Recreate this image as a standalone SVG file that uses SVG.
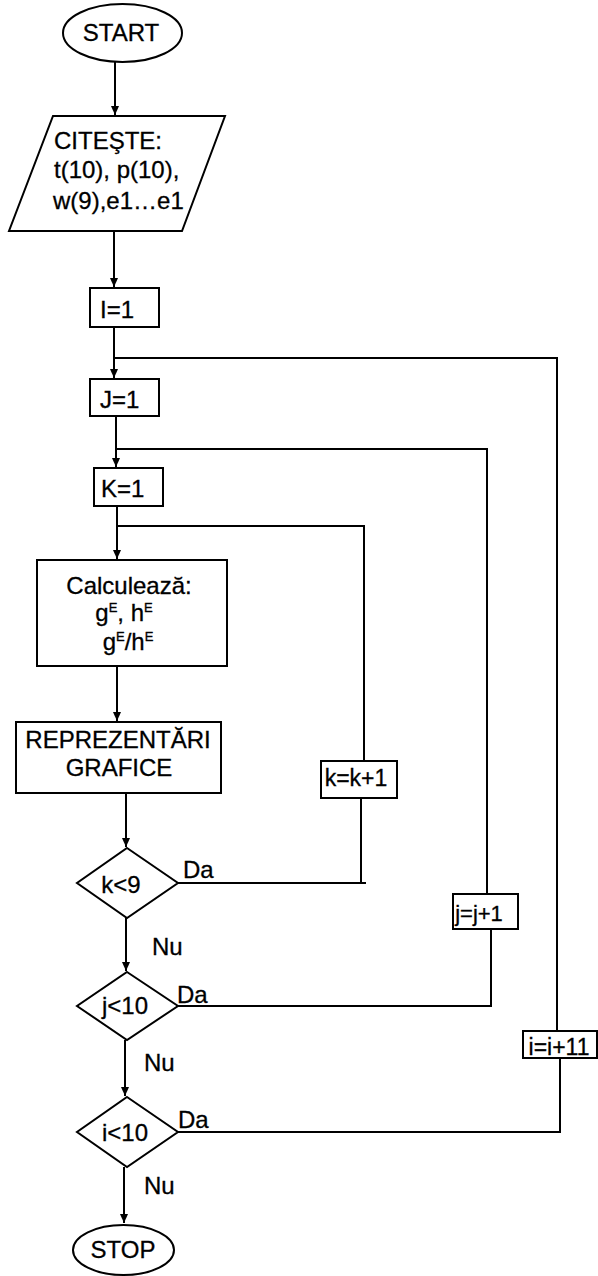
<svg xmlns="http://www.w3.org/2000/svg" width="598" height="1276" viewBox="0 0 598 1276">
<defs>
<marker id="arr" markerWidth="10" markerHeight="10" refX="9" refY="5" orient="auto" markerUnits="userSpaceOnUse">
<path d="M0,1 L9,5 L0,9 Z" fill="#000"/>
</marker>
<style>
.s{fill:#fff;stroke:#000;stroke-width:2}
.t{font-family:"Liberation Sans",Arial,sans-serif;font-size:24px;fill:#000;stroke:#000;stroke-width:0.3}
.c{text-anchor:middle}
.l{fill:none;stroke:#000;stroke-width:2}
.sup{font-size:13px}
</style>
</defs>
<rect width="598" height="1276" fill="#fff"/>

<g id="connectors">
<line class="l" x1="115" y1="62" x2="115" y2="115" marker-end="url(#arr)"/>
<line class="l" x1="114" y1="231" x2="114" y2="287" marker-end="url(#arr)"/>
<line class="l" x1="114" y1="327" x2="114" y2="378" marker-end="url(#arr)"/>
<line class="l" x1="116" y1="416" x2="116" y2="467" marker-end="url(#arr)"/>
<line class="l" x1="117" y1="506" x2="117" y2="559" marker-end="url(#arr)"/>
<line class="l" x1="117" y1="666" x2="117" y2="721" marker-end="url(#arr)"/>
<line class="l" x1="126" y1="793" x2="126" y2="847" marker-end="url(#arr)"/>
<line class="l" x1="126" y1="918" x2="126" y2="971" marker-end="url(#arr)"/>
<line class="l" x1="125" y1="1040" x2="125" y2="1096" marker-end="url(#arr)"/>
<line class="l" x1="124" y1="1167" x2="124" y2="1223" marker-end="url(#arr)"/>
<!-- i loop -->
<polyline class="l" points="114,358 557,358 557,1031"/>
<polyline class="l" points="178,1132 560,1132 560,1058"/>
<!-- j loop -->
<polyline class="l" points="116,449 487,449 487,894"/>
<polyline class="l" points="178,1006 491,1006 491,929"/>
<!-- k loop -->
<polyline class="l" points="117,526 364,526 364,761"/>
<polyline class="l" points="178,883 366,883"/>
<line class="l" x1="361" y1="798" x2="361" y2="883"/>
<text class="t" x="183" y="878">Da</text>
<text class="t" x="152" y="955">Nu</text>
<text class="t" x="177" y="1003">Da</text>
<text class="t" x="144" y="1071">Nu</text>
<text class="t" x="178" y="1128">Da</text>
<text class="t" x="144" y="1194">Nu</text>
</g>

<g id="start">
<ellipse class="s" cx="122.5" cy="33" rx="59.5" ry="29"/>
<text class="t c" x="121" y="41">START</text>
</g>

<g id="read">
<polygon class="s" points="53,116 225,116 182,231 9,231"/>
<text class="t" x="54" y="149">CITEŞTE:</text>
<text class="t" x="54" y="178">t(10), p(10),</text>
<text class="t" x="53" y="209">w(9),e1…e1</text>
</g>

<g id="i1">
<rect class="s" x="90" y="288" width="69" height="39"/>
<text class="t" x="100" y="318">I=1</text>
</g>

<g id="j1">
<rect class="s" x="90" y="379" width="69" height="37"/>
<text class="t" x="100" y="408">J=1</text>
</g>

<g id="k1">
<rect class="s" x="94" y="468" width="69" height="38"/>
<text class="t" x="101" y="497">K=1</text>
</g>

<g id="calc">
<rect class="s" x="37" y="560" width="190" height="106"/>
<text class="t c" x="129" y="594">Calculează:</text>
<text class="t c" x="124" y="621">g<tspan class="sup" dy="-9">E</tspan><tspan dy="9">, h</tspan><tspan class="sup" dy="-9">E</tspan></text>
<text class="t c" x="128" y="650">g<tspan class="sup" dy="-9">E</tspan><tspan dy="9">/h</tspan><tspan class="sup" dy="-9">E</tspan></text>
</g>

<g id="repr">
<rect class="s" x="16" y="722" width="205" height="71"/>
<text class="t c" x="118" y="748">REPREZENTĂRI</text>
<text class="t c" x="119" y="776">GRAFICE</text>
</g>

<g id="kinc">
<rect class="s" x="321" y="761" width="76" height="37"/>
<text class="t c" x="356" y="786" style="font-size:23px">k=k+1</text>
</g>

<g id="kcond">
<polygon class="s" points="127,848 178,883 127,918 77,883"/>
<text class="t c" x="121" y="893">k&lt;9</text>
</g>

<g id="jinc">
<rect class="s" x="453" y="894" width="65" height="35"/>
<text class="t c" x="479" y="921" style="font-size:22px">j=j+1</text>
</g>

<g id="jcond">
<polygon class="s" points="127,972 178,1006 127,1040 77,1006"/>
<text class="t c" x="125" y="1014">j&lt;10</text>
</g>

<g id="iinc">
<rect class="s" x="523" y="1031" width="74" height="27"/>
<text class="t c" x="559" y="1055" style="font-size:23px">i=i+11</text>
</g>

<g id="icond">
<polygon class="s" points="127,1097 178,1132 127,1167 77,1132"/>
<text class="t c" x="125" y="1141">i&lt;10</text>
</g>

<g id="stop">
<ellipse class="s" cx="123.5" cy="1250" rx="50.5" ry="25"/>
<text class="t c" x="123" y="1258">STOP</text>
</g>
</svg>
